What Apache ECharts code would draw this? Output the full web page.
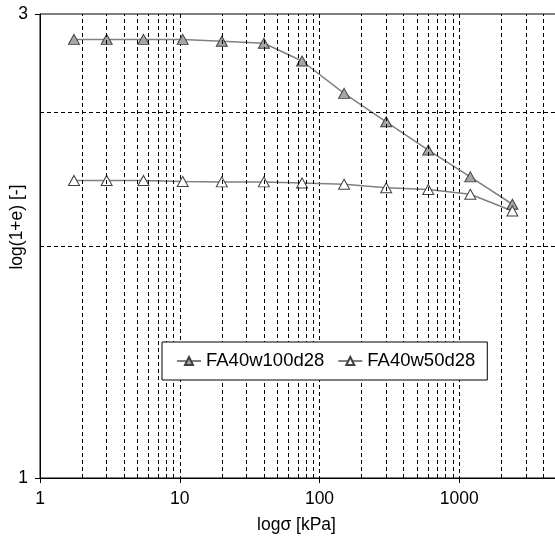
<!DOCTYPE html>
<html>
<head>
<meta charset="utf-8">
<script src="https://cdn.jsdelivr.net/npm/echarts@6/dist/echarts.min.js"></script>
<style>
  html, body { margin: 0; padding: 0; background: #fff; }
  #chart { width: 555px; height: 539px; }
</style>
</head>
<body>
<div id="chart"></div>
<script>
// load steps [kPa]
const stress = [1.75, 3, 5.5, 10.5, 20, 40, 75, 150, 300, 600, 1200, 2400];
// 1+e
const fa40w100d28 = [2.825, 2.825, 2.825, 2.825, 2.812, 2.799, 2.684, 2.486, 2.324, 2.174, 2.040, 1.912];
const fa40w50d28 = [2.023, 2.023, 2.023, 2.018, 2.016, 2.016, 2.011, 2.005, 1.988, 1.980, 1.958, 1.882];
// minor grid lines of the log x axis
const xMinor = [2, 3, 4, 5, 6, 7, 8, 9, 20, 30, 40, 50, 60, 70, 80, 90,
  200, 300, 400, 500, 600, 700, 800, 900, 2000, 3000, 4000, 5000];
// horizontal grid lines
const yGrid = [1.727, 2.382];

const font = 'Liberation Sans, Arial, sans-serif';
const dash = { color: '#000', width: 1, type: [4, 3] };

const chart = echarts.init(document.getElementById('chart'));

const pairs = (ys) => stress.map((s, i) => [s, ys[i]]);

chart.setOption({
  animation: false,
  grid: {
    left: 40, top: 14, bottom: 61, right: -44,
    containLabel: false, outerBoundsMode: 'none',
    show: true, borderColor: '#000', borderWidth: 1
  },
  legend: {
    data: ['FA40w100d28', 'FA40w50d28'],
    left: 162, top: 342, z: 20,
    padding: [9, 12, 9, 14],
    itemWidth: 24, itemHeight: 10, itemGap: 13,
    backgroundColor: '#fff', borderColor: '#000', borderWidth: 1,
    textStyle: { fontFamily: font, fontSize: 18.5, color: '#000', lineHeight: 20 }
  },
  xAxis: {
    type: 'log', logBase: 10, min: 1, max: 10000,
    name: 'logσ [kPa]', nameLocation: 'middle', nameGap: 38,
    nameTextStyle: { fontFamily: font, fontSize: 17.5, color: '#000', padding: [0, 46, 0, 0] },
    axisLine: { lineStyle: { color: '#000', width: 1 } },
    axisTick: { show: true, length: 5, lineStyle: { color: '#000' } },
    axisLabel: { fontFamily: font, fontSize: 17.5, color: '#000', margin: 12, formatter: v => String(v) },
    splitLine: { show: true, lineStyle: dash },
    minorTick: { show: false },
    minorSplitLine: { show: false }
  },
  yAxis: {
    type: 'log', logBase: 3, min: 1, max: 3,
    name: 'log(1+e) [-]', nameLocation: 'middle', nameGap: 14, nameMoveOverlap: false,
    nameTextStyle: { fontFamily: font, fontSize: 17.5, color: '#000', padding: [0, 0, 0, 38] },
    axisLine: { show: true, lineStyle: { color: '#000', width: 1 } },
    axisTick: { show: true, length: 5, lineStyle: { color: '#000' } },
    axisLabel: { fontFamily: font, fontSize: 17.5, color: '#000', margin: 12, formatter: v => String(v) },
    splitLine: { show: false }
  },
  series: [
    {
      name: 'gridlines', type: 'line', data: [], silent: true, z: 1,
      markLine: {
        silent: true, symbol: ['none', 'none'], label: { show: false },
        lineStyle: dash, animation: false,
        data: xMinor.map(v => ({ xAxis: v })).concat(yGrid.map(v => ({ yAxis: v })))
      }
    },
    {
      name: 'FA40w100d28', type: 'line', z: 3,
      data: pairs(fa40w100d28),
      symbol: 'triangle', symbolSize: [11, 10],
      lineStyle: { color: '#808080', width: 1.5 },
      itemStyle: { color: '#a6a6a6', borderColor: '#404040', borderWidth: 1 }
    },
    {
      name: 'FA40w50d28', type: 'line', z: 3,
      data: pairs(fa40w50d28),
      symbol: 'triangle', symbolSize: [11, 10],
      lineStyle: { color: '#808080', width: 1.5 },
      itemStyle: { color: '#ffffff', borderColor: '#404040', borderWidth: 1 }
    }
  ]
});
</script>
</body>
</html>
